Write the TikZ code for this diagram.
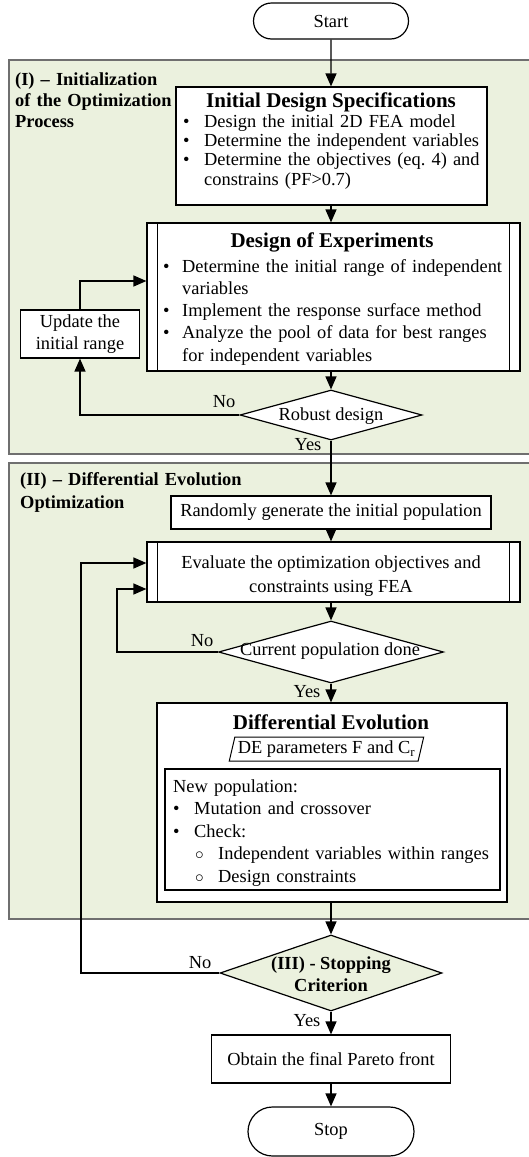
\documentclass[tikz,border=0pt]{standalone}
\usepackage{fontspec}
\setmainfont{Liberation Serif}
\usetikzlibrary{arrows.meta,shapes.geometric,shapes.misc}
\definecolor{panelgreen}{HTML}{EBF1DE}
\definecolor{panelline}{HTML}{6F6F6F}
\frenchspacing
\newcommand{\bulletline}[2][21pt]{\makebox[#1][l]{\textbullet}#2}
\newcommand{\contline}[2][21pt]{\hspace*{#1}#2}
\newcommand{\circleline}[1]{\hspace*{22pt}\makebox[23pt][l]{$\circ$}#1}
\tikzset{
  every node/.style={font=\fontsize{18.4}{22}\selectfont, inner sep=0pt},
  panel/.style={draw=panelline, fill=panelgreen, line width=1.4pt},
  seclabel/.style={anchor=base west, align=left, text width=240pt, font=\bfseries\fontsize{18.4}{21}\selectfont},
  terminal/.style={draw, rounded rectangle, line width=1.2pt, fill=white},
  procbox/.style={draw, rectangle, line width=1.2pt, fill=white, align=center},
  decision/.style={draw, diamond, line width=1.2pt, fill=white},
  boxtitle/.style={font=\bfseries\fontsize{21}{24}\selectfont},
  bullets/.style={anchor=base west, align=left, text width=400pt},
  flow/.style={-{Triangle[length=13pt,width=11pt]}, line width=1.3pt}
}
\begin{document}
\begin{tikzpicture}[x=1pt,y=-1pt]
  \fill[white] (0,0) rectangle (529,1157);
  \useasboundingbox (0,0) rectangle (529,1157);
  % phases
  \draw[panel] (9,60) rectangle (535,454);
  \draw[panel] (9,463) rectangle (535,919);
  \node[seclabel] (secone) at (15,85) {(I) -- Initialization\\of the Optimization\\Process};
  \node[seclabel, font=\bfseries\fontsize{18.4}{23}\selectfont] (sectwo) at (20,485) {(II) -- Differential Evolution\\Optimization};
  % phase I
  \node[terminal, minimum width=155pt, minimum height=36pt] (start) at (331,21) {Start};
  \node[procbox, minimum width=311pt, minimum height=118pt] (ids) at (331.5,146) {};
  \node[boxtitle] (idstitle) at (331,102) {Initial Design Specifications};
  \node[bullets, font=\fontsize{18.4}{19.4}\selectfont] (idslist) at (183,127)
    {\bulletline{Design the initial 2D FEA model}\\
     \bulletline{Determine the independent variables}\\
     \bulletline{Determine the objectives (eq. 4) and}\\
     \contline{constrains (PF>0.7)}};
  \node[procbox, minimum width=373pt, minimum height=148pt] (doe) at (333.5,297) {};
  \node[boxtitle] (doetitle) at (332,242) {Design of Experiments};
  \node[bullets, font=\fontsize{18.4}{22.3}\selectfont] (doelist) at (163,272)
    {\bulletline[19pt]{Determine the initial range of independent}\\
     \contline[19pt]{variables}\\
     \bulletline[19pt]{Implement the response surface method}\\
     \bulletline[19pt]{Analyze the pool of data for best ranges}\\
     \contline[19pt]{for independent variables}};
  \node[procbox, minimum width=119pt, minimum height=48pt] (upd) at (80,334) {Update the\\initial range};
  \node[decision, minimum width=182pt, minimum height=50pt] (robust) at (331,415) {};
  \node (robusttext) at (331,416) {Robust design};
  % phase II
  \node[procbox, minimum width=320pt, minimum height=33pt] (rand) at (331,512.5) {Randomly generate the initial population};
  \node[procbox, minimum width=373pt, minimum height=60pt] (eval) at (333.5,572) {};
  \node[align=center, font=\fontsize{18.4}{24}\selectfont] (evaltext) at (331,576)
    {Evaluate the optimization objectives and\\constraints using FEA};
  \foreach \n in {doe,eval} {
    \draw[line width=1.2pt] ([xshift=11pt]\n.north west) -- ([xshift=11pt]\n.south west);
    \draw[line width=1.2pt] ([xshift=-11pt]\n.north east) -- ([xshift=-11pt]\n.south east);
  }
  \node[decision, minimum width=225pt, minimum height=62pt] (curpop) at (331,652) {};
  \node (curpoptext) at (330,651) {Current population done};
  \node[procbox, minimum width=350pt, minimum height=199pt] (de) at (332,802.5) {};
  \node[boxtitle] (detitle) at (331,722) {Differential Evolution};
  \node[draw, trapezium, trapezium left angle=72, trapezium right angle=108, trapezium stretches=true,
        minimum width=195pt, minimum height=24pt, line width=1pt] (depar) at (326.5,749)
    {DE parameters F and C\textsubscript{r}};
  \node[procbox, minimum width=335pt, minimum height=121pt] (newpop) at (332.5,829.5) {};
  \node[bullets, font=\fontsize{18.4}{22.5}\selectfont] (newpoplist) at (173,792)
    {New population:\\
     \bulletline{Mutation and crossover}\\
     \bulletline{Check:}\\
     \circleline{Independent variables within ranges}\\
     \circleline{Design constraints}};
  % phase III
  \node[decision, fill=panelgreen, minimum width=222pt, minimum height=76pt] (stopcrit) at (331,973) {};
  \node[align=center, font=\bfseries\fontsize{18.4}{22}\selectfont] (stopcrittext) at (331,974) {(III) - Stopping\\Criterion};
  \node[procbox, minimum width=239pt, minimum height=48pt] (pareto) at (331,1059) {Obtain the final Pareto front};
  \node[terminal, minimum width=166pt, minimum height=49pt] (stop) at (331,1131.5) {Stop};
  \coordinate (loopin) at (117,589);
  \coordinate (loopout) at (81,563);
  \begin{scope}[flow]
    \draw (start) -- (ids.north -| start);
    \draw (ids.south -| start) -- (doe.north -| start);
    \draw (robust.north |- doe.south) -- (robust.north);
    \draw (robust.west) -| (upd.south);
    \draw (upd.north) |- ([yshift=16pt]doe.west);
    \draw (robust.south) -- (rand.north);
    \draw (rand.south) -- (rand.south |- eval.north);
    \draw (curpop.north |- eval.south) -- (curpop.north);
    \draw (curpop.west) -| (loopin) -- (loopin -| eval.west);
    \draw (curpop.south) -- (de.north -| curpop);
    \draw (de.south -| stopcrit) -- (stopcrit.north);
    \draw (stopcrit.west) -| (loopout) -- (loopout -| eval.west);
    \draw (stopcrit.south) -- (pareto.north);
    \draw (pareto.south) -- (stop.north);
  \end{scope}
  \node (norobust) at (224,402) {No};
  \node (yesrobust) at (308,445) {Yes};
  \node (nocurpop) at (202,641) {No};
  \node (yescurpop) at (307,692) {Yes};
  \node (nostop) at (200,963) {No};
  \node (yesstop) at (307,1021) {Yes};
\end{tikzpicture}
\end{document}
